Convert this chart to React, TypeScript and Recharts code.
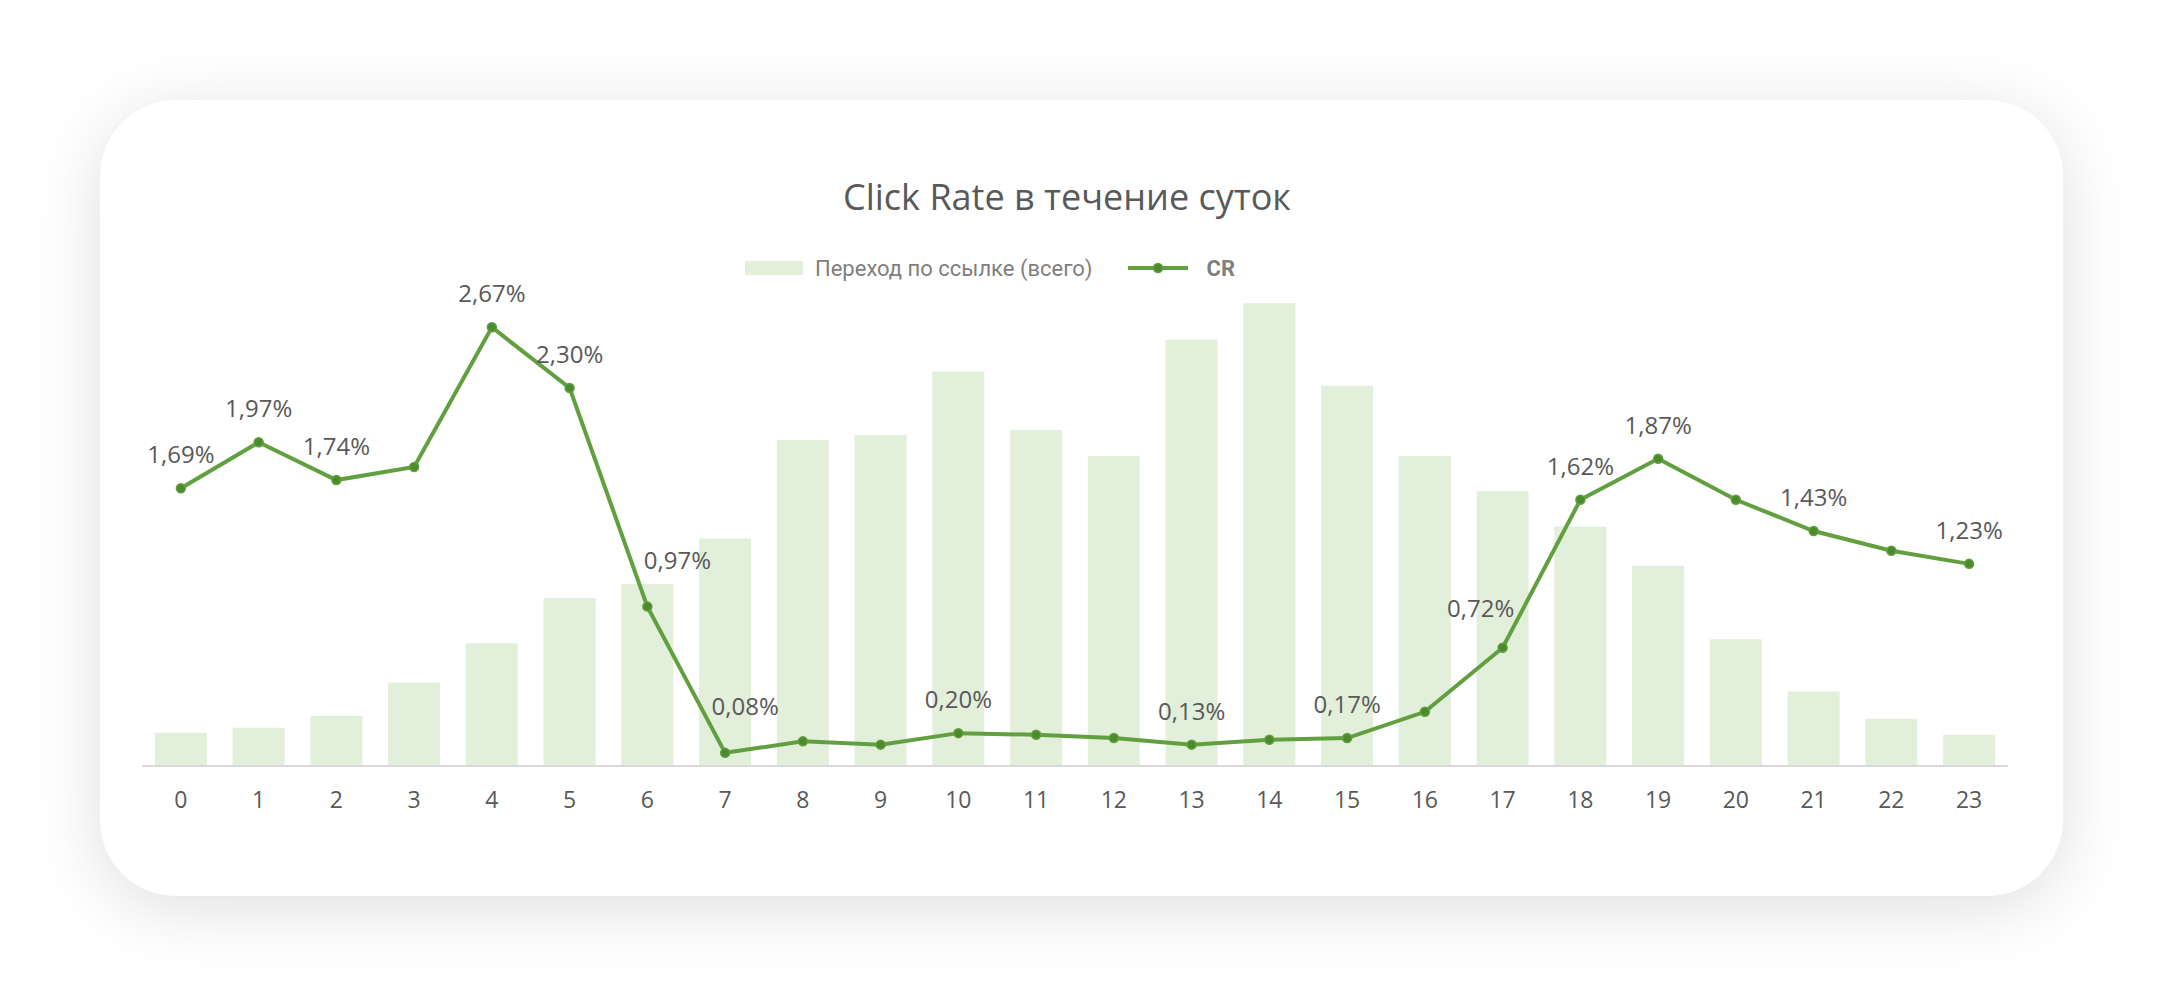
import { ComposedChart, Bar, Line, XAxis, YAxis } from "recharts";

// hours of the day
const hours = ["0", "1", "2", "3", "4", "5", "6", "7", "8", "9", "10", "11", "12", "13", "14", "15", "16", "17", "18", "19", "20", "21", "22", "23"];

// Переход по ссылке (всего)
const clicks = [330, 380, 500, 830, 1220, 1670, 1810, 2260, 3240, 3290, 3920, 3340, 3080, 4240, 4600, 3780, 3080, 2730, 2380, 1990, 1260, 740, 470, 310];

// CR, %
const cr = [1.69, 1.97, 1.74, 1.82, 2.67, 2.3, 0.97, 0.08, 0.15, 0.13, 0.2, 0.19, 0.17, 0.13, 0.16, 0.17, 0.33, 0.72, 1.62, 1.87, 1.62, 1.43, 1.31, 1.23];

// which CR points carry a value label
const labelled = [0, 1, 2, 4, 5, 6, 7, 10, 13, 15, 17, 18, 19, 21, 23];

const data = hours.map((h, i) => ({ hour: h, clicks: clicks[i], cr: cr[i] }));

const TEXT = "#595959";
const LINE = "#62a03f";
const BAR = "#e2efda";

// a few labels were nudged by hand in the original
const nudge = { 6: [30, -38], 7: [20, -38], 17: [-22, -31] };

const CrLabel = (props) => {
  const { x, y, index, value } = props;
  if (!labelled.includes(index)) return null;
  const [dx, dy] = nudge[index] || [0, -25];
  return (
    <text x={x + dx} y={y + dy} textAnchor="middle" fill={TEXT} fontSize={24} fontFamily="'Open Sans', sans-serif">
      {value.toFixed(2).replace(".", ",") + "%"}
    </text>
  );
};

const Dot = (props) => {
  const { cx, cy, index } = props;
  return <circle key={`dot-${index}`} cx={cx} cy={cy} r={4.5} fill="#4b8a2d" stroke={LINE} strokeWidth={1.5} />;
};

export default function App() {
  return (
    <div style={{ position: "absolute", left: 0, top: 0, width: 2164, height: 997, background: "#fff", overflow: "hidden" }}>
      <div
        style={{
          position: "absolute",
          left: 100,
          top: 100,
          width: 1963,
          height: 796,
          background: "#fff",
          borderRadius: 76,
          boxShadow: "0 12px 70px rgba(0,0,0,0.13)",
        }}
      >
        <div
          style={{
            position: "absolute",
            left: 567,
            width: 800,
            top: 72,
            textAlign: "center",
            fontFamily: "'Open Sans', sans-serif",
            fontSize: 36,
            color: TEXT,
            lineHeight: "50px",
          }}
        >
          Click Rate в течение суток
        </div>

        <div
          style={{
            position: "absolute",
            left: 645,
            top: 154,
            height: 28,
            display: "flex",
            alignItems: "center",
            fontFamily: "Roboto, sans-serif",
            fontSize: 22,
            color: "#7f7f7f",
          }}
        >
          <span style={{ display: "inline-block", width: 58, height: 14, background: BAR, marginRight: 12 }} />
          <span>Переход по ссылке (всего)</span>
          <svg width={60} height={14} style={{ marginLeft: 36, marginRight: 18 }}>
            <line x1={0} y1={7} x2={60} y2={7} stroke={LINE} strokeWidth={4} />
            <circle cx={30} cy={7} r={4.5} fill="#4b8a2d" stroke={LINE} strokeWidth={1.5} />
          </svg>
          <span style={{ fontWeight: 700 }}>CR</span>
        </div>

        <ComposedChart
          width={1963}
          height={796}
          data={data}
          margin={{ top: 173, right: 55, bottom: 70, left: 42 }}
          barCategoryGap="16.5%"
        >
          <XAxis
            dataKey="hour"
            axisLine={{ stroke: "#d9d9d9", strokeWidth: 2 }}
            tickLine={false}
            tickMargin={20}
            height={60}
            interval={0}
            tick={{ fill: TEXT, fontSize: 23, fontFamily: "'Open Sans', sans-serif" }}
          />
          <YAxis yAxisId="clicks" hide domain={[0, 4900]} />
          <YAxis yAxisId="cr" orientation="right" hide domain={[0, 3]} />
          <Bar yAxisId="clicks" dataKey="clicks" fill={BAR} isAnimationActive={false} />
          <Line
            yAxisId="cr"
            dataKey="cr"
            stroke={LINE}
            strokeWidth={4}
            dot={Dot}
            activeDot={false}
            label={CrLabel}
            isAnimationActive={false}
          />
        </ComposedChart>
      </div>
    </div>
  );
}
